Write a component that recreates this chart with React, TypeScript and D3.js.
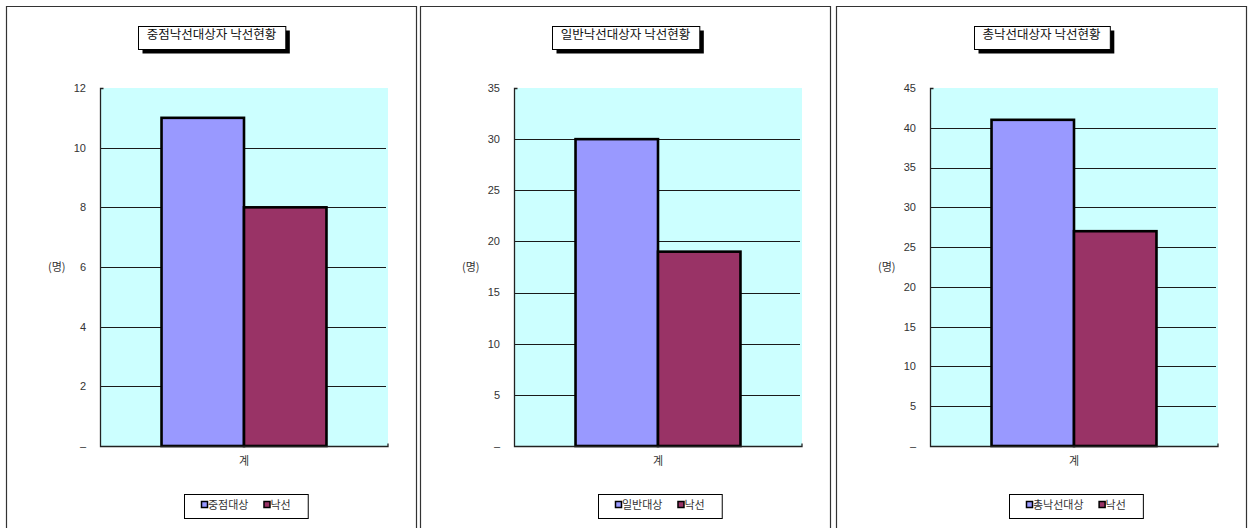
import { useEffect, useRef } from "react";
import * as d3 from "d3";

// chart data
const categories = ["계"];
const panelTitles = [
  "중점낙선대상자 낙선현황",
  "일반낙선대상자 낙선현황",
  "총낙선대상자 낙선현황",
];
const targetLabels = ["중점대상", "일반대상", "총낙선대상"];
const targetValues = [11, 30, 41];
const defeatLabel = "낙선";
const defeatValues = [8, 19, 27];
const yMaxes = [12, 35, 45];
const ySteps = [2, 5, 5];
const unitLabel = "(명)";

const colors = ["#9999FF", "#993366"];
const KR = "'Noto Sans CJK KR', 'Noto Sans', sans-serif";
const NUM = "'Liberation Sans', Arial, sans-serif";

export default function App() {
  const ref = useRef<SVGSVGElement | null>(null);

  useEffect(() => {
    if (!ref.current) return;
    ref.current.innerHTML = "";
    const svg = d3.select(ref.current);

    const panelX = [6, 420, 836];
    const panelW = 411;
    const plot = { left: 94, top: 82, width: 288, height: 358 };

    panelTitles.forEach((title, i) => {
      const g = svg.append("g").attr("transform", `translate(${panelX[i]},6)`);

      // panel frame (no bottom edge, runs off the page)
      g.append("path")
        .attr("d", `M0.5,560V0.5H${panelW - 0.5}V560`)
        .attr("fill", "#fff")
        .attr("stroke", "#333")
        .attr("stroke-width", 1.2);

      const x = d3
        .scaleBand()
        .domain(categories)
        .range([plot.left, plot.left + plot.width])
        .paddingInner(0)
        .paddingOuter(0.373);
      const inner = d3
        .scaleBand()
        .domain(["t", "d"])
        .range([0, x.bandwidth()]);
      const y = d3
        .scaleLinear()
        .domain([0, yMaxes[i]])
        .range([plot.top + plot.height, plot.top]);
      const ticks = d3.range(0, yMaxes[i] + ySteps[i] / 2, ySteps[i]);

      // plot background
      g.append("rect")
        .attr("x", plot.left)
        .attr("y", plot.top)
        .attr("width", plot.width)
        .attr("height", plot.height)
        .attr("fill", "#CCFFFF");

      // gridlines
      g.selectAll(".grid")
        .data(ticks.filter((t) => t > 0 && t < yMaxes[i]))
        .join("line")
        .attr("x1", plot.left)
        .attr("x2", plot.left + plot.width - 2)
        .attr("y1", (d) => Math.round(y(d)) + 0.5)
        .attr("y2", (d) => Math.round(y(d)) + 0.5)
        .attr("stroke", "#1a1a1a")
        .attr("stroke-width", 1);

      // bars
      const rows = categories.map((c) => ({
        cat: c,
        vals: [
          { key: "t", v: targetValues[i] },
          { key: "d", v: defeatValues[i] },
        ],
      }));
      rows.forEach((r) => {
        g.selectAll(".bar")
          .data(r.vals)
          .join("rect")
          .attr("x", (d) => (x(r.cat) as number) + (inner(d.key) as number))
          .attr("y", (d) => y(d.v))
          .attr("width", inner.bandwidth())
          .attr("height", (d) => y(0) - y(d.v))
          .attr("fill", (d, j) => colors[j])
          .attr("stroke", "#000")
          .attr("stroke-width", 2.6);
      });

      // axes
      const x0 = plot.left + 0.5;
      const yb = plot.top + plot.height + 0.5;
      g.append("path")
        .attr(
          "d",
          `M${x0 + 3},${plot.top + 0.5}H${x0}V${yb}H${plot.left + plot.width}V${yb - 3}`
        )
        .attr("fill", "none")
        .attr("stroke", "#222")
        .attr("stroke-width", 1.3);

      // y tick labels
      g.selectAll(".ytl")
        .data(ticks)
        .join("text")
        .attr("x", plot.left - 14)
        .attr("y", (d) => y(d))
        .attr("dy", "0.35em")
        .attr("text-anchor", "end")
        .attr("font-family", NUM)
        .attr("font-size", 11)
        .attr("fill", "#333")
        .text((d) => (d === 0 ? "–" : String(d)));

      // unit label
      g.append("text")
        .attr("x", 42)
        .attr("y", y(yMaxes[i] / 2))
        .attr("dy", "0.35em")
        .attr("font-family", KR)
        .attr("font-size", 11)
        .attr("fill", "#333")
        .text(unitLabel);

      // category label
      g.selectAll(".xtl")
        .data(categories)
        .join("text")
        .attr("x", (d) => (x(d) as number) + x.bandwidth() / 2)
        .attr("y", plot.top + plot.height + 19)
        .attr("text-anchor", "middle")
        .attr("font-family", KR)
        .attr("font-size", 11)
        .attr("fill", "#333")
        .text((d) => d);

      // title box with shadow
      const tg = g.append("g");
      const tt = tg
        .append("text")
        .attr("x", panelW / 2)
        .attr("y", 32.5)
        .attr("text-anchor", "middle")
        .attr("font-family", KR)
        .attr("font-size", 12.5)
        .attr("fill", "#111")
        .text(title);
      const tw = (tt.node() as SVGTextElement).getComputedTextLength() + 18;
      const tx = Math.round(panelW / 2 - tw / 2);
      tg.insert("rect", "text")
        .attr("x", tx + 4.5)
        .attr("y", 24.5)
        .attr("width", tw)
        .attr("height", 23)
        .attr("fill", "#000");
      tg.insert("rect", "text")
        .attr("x", tx + 0.5)
        .attr("y", 20.5)
        .attr("width", tw)
        .attr("height", 23)
        .attr("fill", "#fff")
        .attr("stroke", "#000")
        .attr("stroke-width", 1);

      // legend
      const lg = g.append("g");
      const items = [targetLabels[i], defeatLabel];
      let cx = 0;
      items.forEach((label, j) => {
        const it = lg.append("g").attr("transform", `translate(${cx},0)`);
        it.append("rect")
          .attr("x", 0.5)
          .attr("y", -7.5)
          .attr("width", 6)
          .attr("height", 6)
          .attr("fill", colors[j])
          .attr("stroke", "#000")
          .attr("stroke-width", 1.5);
        const t = it
          .append("text")
          .attr("x", 7)
          .attr("y", 0)
          .attr("font-family", KR)
          .attr("font-size", 11)
          .attr("fill", "#333")
          .text(label);
        const w = 7 + (t.node() as SVGTextElement).getComputedTextLength();
        cx += w + 15;
      });
      const total = cx - 15;
      const lw = total + 34;
      const lcx = plot.left + plot.width / 2 + 2;
      const lx = Math.round(lcx - lw / 2);
      lg.attr("transform", `translate(${lx + 17},${505 - 6 + 4})`);
      g.insert("rect", "g:last-child")
        .attr("x", lx + 0.5)
        .attr("y", 488.5)
        .attr("width", lw)
        .attr("height", 24)
        .attr("fill", "#fff")
        .attr("stroke", "#000")
        .attr("stroke-width", 1);
    });
  }, []);

  return (
    <svg
      ref={ref}
      width={1253}
      height={528}
      style={{ position: "absolute", left: 0, top: 0, background: "#fff" }}
    />
  );
}
